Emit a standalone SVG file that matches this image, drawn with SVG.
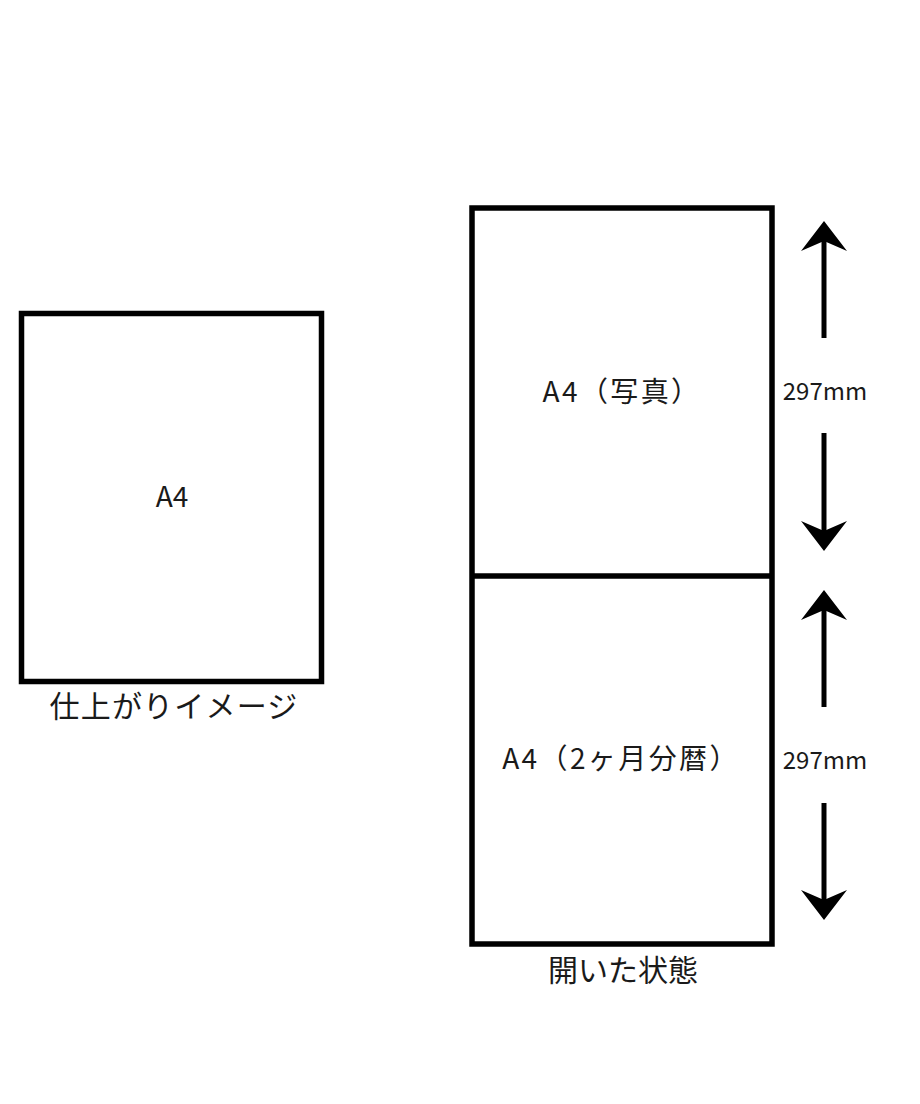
<svg xmlns="http://www.w3.org/2000/svg" width="920" height="1104" viewBox="0 0 920 1104">
<style>
.box{fill:#fff;stroke:#000;stroke-width:5.5}
.lbl{font-family:"Noto Sans CJK JP","Noto Sans",sans-serif;fill:#1a1a1a;text-anchor:middle}
.a4{font-size:28px}
.wide{letter-spacing:2.4px}
.cap{font-size:30px}
.dim{font-size:24px}
.shaft{stroke:#000;stroke-width:5;fill:none}
.head{fill:#000}
</style>
<defs>
<path id="up" class="head" d="M0,0 L23,30 L0,20 L-23,30 Z"/>
</defs>
<rect width="920" height="1104" fill="#fff"/>
<g id="finished">
<rect class="box" x="21.5" y="313.5" width="300" height="368"/>
<text class="lbl a4" x="172" y="507">A4</text>
<text class="lbl cap" x="174" y="717" style="letter-spacing:1.2px">仕上がりイメージ</text>
</g>
<g id="open">
<rect class="box" x="472" y="208" width="300" height="736"/>
<line x1="472" y1="576" x2="772" y2="576" stroke="#000" stroke-width="5.5"/>
<text class="lbl a4 wide" x="622" y="402">A4（写真）</text>
<text class="lbl a4 wide" x="621" y="769">A4（2ヶ月分暦）</text>
<text class="lbl cap" x="623" y="981">開いた状態</text>
</g>
<g id="dims">
<text class="lbl dim" x="825" y="400">297mm</text>
<text class="lbl dim" x="825" y="769">297mm</text>
</g>
<g id="connectors">
<line class="shaft" x1="824" y1="338" x2="824" y2="235"/>
<use href="#up" transform="translate(824,221)"/>
<line class="shaft" x1="824" y1="433" x2="824" y2="537"/>
<use href="#up" transform="translate(824,551) rotate(180)"/>
<line class="shaft" x1="824" y1="707" x2="824" y2="604"/>
<use href="#up" transform="translate(824,590)"/>
<line class="shaft" x1="824" y1="803" x2="824" y2="906"/>
<use href="#up" transform="translate(824,920) rotate(180)"/>
</g>
</svg>
